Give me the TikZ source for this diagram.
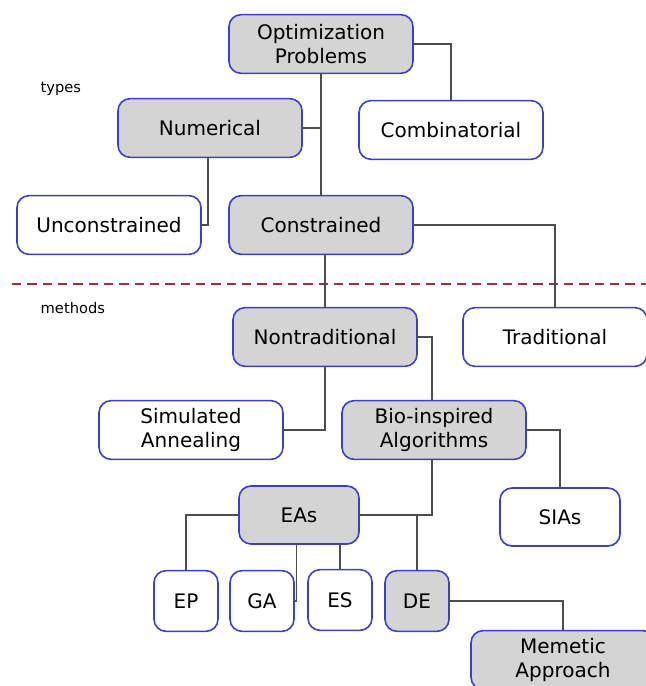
\documentclass[tikz,border=0pt]{standalone}
\usepackage{fontspec}
\setmainfont{DejaVu Sans}
\usetikzlibrary{positioning,calc}

\definecolor{boxblue}{RGB}{62,62,200}
\definecolor{boxgrey}{RGB}{212,212,212}
\definecolor{splitred}{RGB}{160,48,60}

\begin{document}
\begin{tikzpicture}[
    x=0.75pt, y=-0.75pt,
    font=\fontsize{15}{18.5}\selectfont,
    box/.style={rectangle, rounded corners=9pt, draw=boxblue, line width=1.2pt, minimum width=138pt, minimum height=44pt, inner sep=0pt, align=center, fill=white},
    grey/.style={box, fill=boxgrey},
    smallbox/.style={minimum width=48pt, minimum height=45.5pt},
    midbox/.style={minimum width=90pt, minimum height=43.5pt},
    link/.style={draw=black!70, line width=0.8pt},
    note/.style={font=\fontsize{11}{13}\selectfont, anchor=west}
]
\useasboundingbox (0,0) rectangle (646,686);

% types
\node[grey] (opt) at (321,44) {Optimization\\Problems};
\node[grey] (num) at (210,128) {Numerical};
\node[box] (comb) at (451,130) {Combinatorial};
\node[box] (uncon) at (109,225) {Unconstrained};
\node[grey] (cons) at (321,225) {Constrained};

\node[note] (types) at (36,89) {types};

% split
\coordinate (split west) at (12,284);
\coordinate (split east) at (646,284);
\draw[splitred, line width=1.5pt, dash pattern=on 7pt off 4.5pt] (split west) -- (split east);

% methods
\node[note] (methods) at (36,308) {methods};

\node[grey] (nontrad) at (325,337) {Nontraditional};
\node[box] (trad) at (555,337) {Traditional};
\node[box] (sim) at (191,430) {Simulated\\Annealing};
\node[grey] (bio) at (434,430) {Bio-inspired\\Algorithms};
\node[grey, midbox] (eas) at (299,515) {EAs};
\node[box, midbox] (sias) at (560,517) {SIAs};
\node[box, smallbox] (ep) at (186,601) {EP};
\node[box, smallbox] (ga) at (262,601) {GA};
\node[box, smallbox] (es) at (340,600) {ES};
\node[grey, smallbox] (de) at (417,601) {DE};
\node[grey] (mem) at (563,660) {Memetic\\Approach};

% links
\draw[link] (opt.east) -| (comb.north);
\draw[link] (opt.south) -- (cons.north);
\draw[link] (num.east) -- (num.east -| opt.south);
\draw[link] ([xshift=-1.5pt]num.south) |- (uncon.east);
\draw[link] (cons.east) -| (trad.north);
\draw[link] (nontrad.north |- cons.south) -- (nontrad.north);
\draw[link] ([xshift=6pt]nontrad.east) -| ([xshift=-1.5pt]bio.north);
\draw[link] (nontrad.east) -- ([xshift=6pt]nontrad.east);
\draw[link] (nontrad.south) |- (sim.east);
\draw[link] (bio.east) -| (sias.north);
\draw[link] ([xshift=-1.5pt]bio.south) |- (eas.east);
\draw[link] (de.north |- eas.east) -- (de.north);
\draw[link] (eas.west) -| (ep.north);
\draw[link] ([xshift=1.2pt]ga.east |- eas.south) |- (ga.east);
\draw[link] (es.north |- eas.south) -- (es.north);
\draw[link] (de.east) -| (mem.north);

\end{tikzpicture}
\end{document}
